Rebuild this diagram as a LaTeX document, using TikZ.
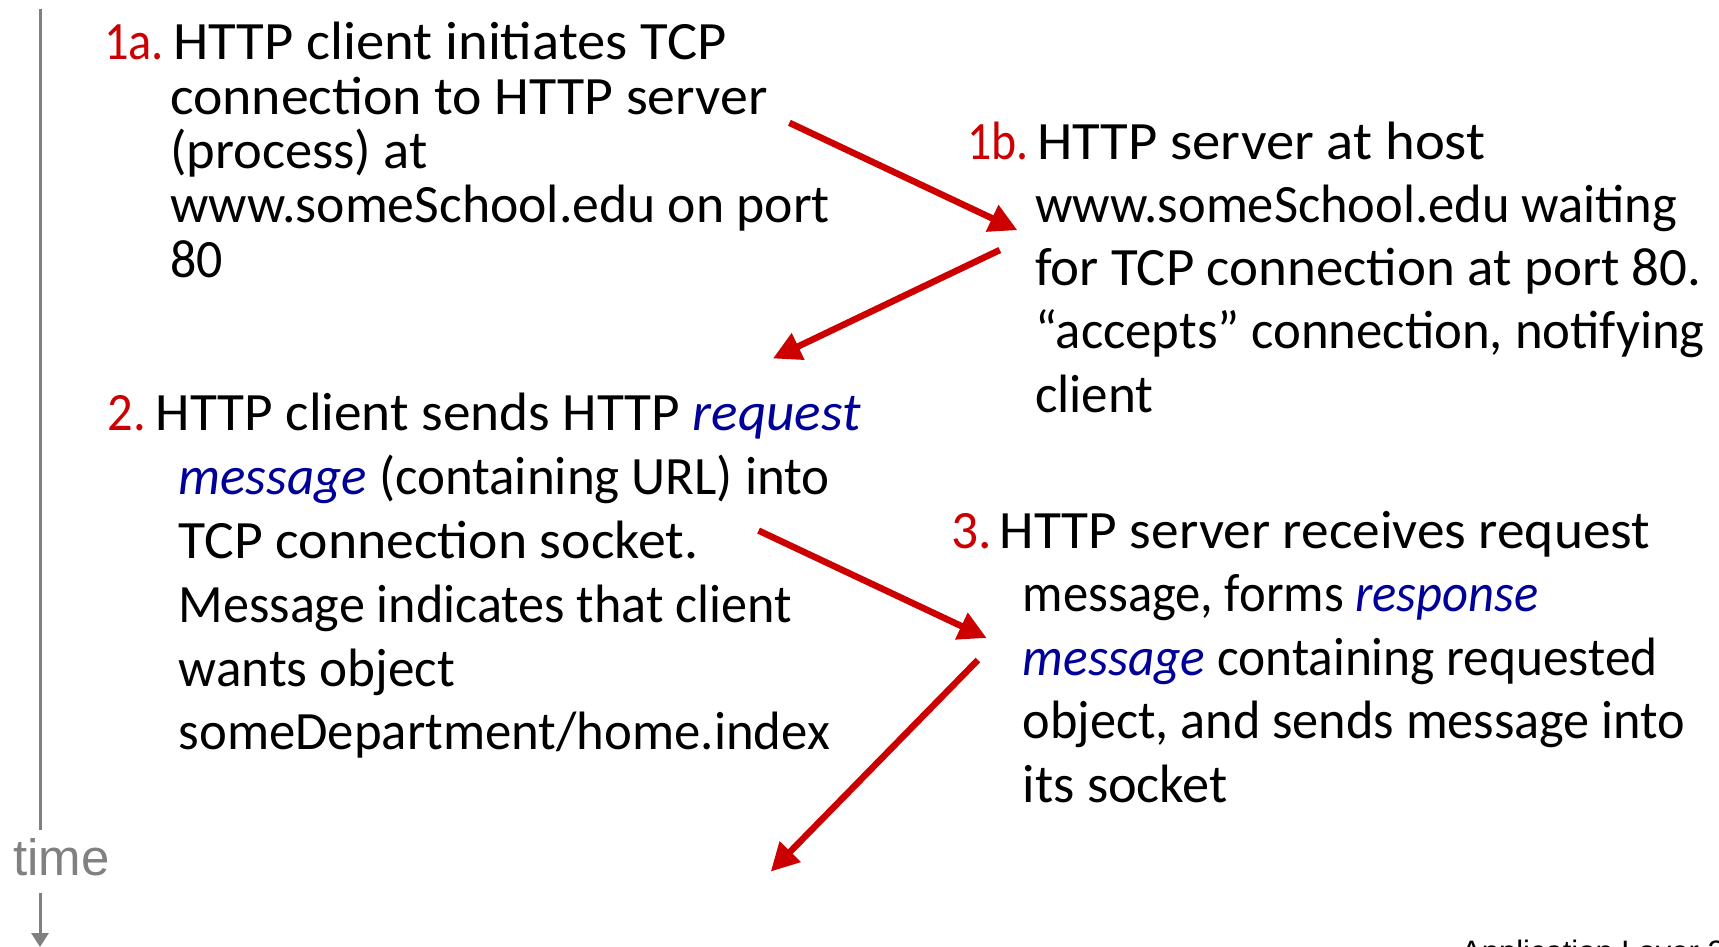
\documentclass[tikz,border=0pt]{standalone}
\usepackage{fontspec}
\usepackage{graphicx}
\usetikzlibrary{arrows.meta}
\setmainfont{Carlito}
\newfontfamily\timefont{Liberation Sans}
\definecolor{kred}{RGB}{204,0,0}
\definecolor{kblue}{RGB}{0,0,153}
\definecolor{kgray}{RGB}{128,128,128}
\newcommand\fitw[2]{\resizebox{#1pt}{\height}{#2}}
\newcommand\hl[1]{{\color{kblue}\itshape #1}}
\begin{document}
\begin{tikzpicture}[x=1pt,y=-1pt,
  txt/.style={anchor=base west,inner sep=0pt,outer sep=0pt,font=\fontsize{54}{60}\selectfont},
  num/.style={txt,text=kred},
  redarrow/.style={draw=kred,line width=6.5pt,-{Triangle[length=28pt,width=28pt]}},
  axis/.style={draw=kgray,line width=3pt},
]
\useasboundingbox (0,0) rectangle (1719,947);

% time axis
\node[anchor=base west,inner sep=0pt,text=kgray,font=\timefont\fontsize{51}{56}\selectfont] (time) at (13,875) {time};
\coordinate (t0) at (40,9);
\coordinate (t1) at (40,830);
\coordinate (t2) at (40,893);
\coordinate (t3) at (40,947);
\draw[axis] (t0) -- (t1);
\draw[axis,-{Triangle[length=14pt,width=17pt]}] (t2) -- (t3);

% block 1a
\node[num] (n1a) at (104,60) {\fitw{60}{1a.}};
\node[txt] (a1) at (173,60) {\fitw{553.6}{HTTP client initiates TCP}};
\node[txt] (a2) at (170,114.3) {\fitw{597.5}{connection to HTTP server}};
\node[txt] (a3) at (170,168.6) {\fitw{257.6}{(process) at}};
\node[txt] (a4) at (170,222.9) {\fitw{660}{www.someSchool.edu on port}};
\node[txt] (a5) at (170,277.2) {\fitw{52.6}{80}};

% block 1b
\node[num] (n1b) at (967,159) {\fitw{61.4}{1b.}};
\node[txt] (b1) at (1037,159) {\fitw{448.4}{HTTP server at host}};
\node[txt] (b2) at (1035,222.3) {\fitw{642.4}{www.someSchool.edu waiting}};
\node[txt] (b3) at (1035,285.6) {\fitw{666.6}{for TCP connection at port 80.}};
\node[txt] (b4) at (1035,348.9) {\fitw{669.8}{“accepts” connection, notifying}};
\node[txt] (b5) at (1035,412.2) {\fitw{118.4}{client}};

% block 2
\node[num] (n2) at (107.4,430.8) {\fitw{38.4}{2.}};
\node[txt] (c1) at (155.7,430.8) {\fitw{705}{HTTP client sends HTTP \hl{request}}};
\node[txt] (c2) at (178.7,494.6) {\fitw{651.2}{\hl{message} (containing URL) into}};
\node[txt] (c3) at (178.7,558.4) {\fitw{519.6}{TCP connection socket.}};
\node[txt] (c4) at (178.7,622.2) {\fitw{612.8}{Message indicates that client}};
\node[txt] (c5) at (178.7,686) {\fitw{276.3}{wants object}};
\node[txt] (c6) at (178.7,749.8) {\fitw{651.2}{someDepartment/home.index}};

% block 3
\node[num] (n3) at (951.6,548.2) {\fitw{40.6}{3.}};
\node[txt] (d1) at (999.8,548.2) {\fitw{650.1}{HTTP server receives request}};
\node[txt] (d2) at (1022.9,611.7) {\fitw{515.3}{message, forms \hl{response}}};
\node[txt] (d3) at (1022.9,675.3) {\fitw{634.8}{\hl{message} containing requested}};
\node[txt] (d4) at (1022.9,738.9) {\fitw{662.2}{object, and sends message into}};
\node[txt] (d5) at (1022.9,802.5) {\fitw{205}{its socket}};

% footer (cut off by page edge)
\node[anchor=base west,inner sep=0pt,font=\timefont\fontsize{31}{36}\selectfont] (footer) at (1461,962) {Application Layer 2};

% arrows
\coordinate (p1s) at (789.4,122.8);
\coordinate (p1e) at (1017.4,230.2);
\coordinate (p2s) at (999.8,250);
\coordinate (p2e) at (772.9,358.5);
\coordinate (p3s) at (758.6,530.6);
\coordinate (p3e) at (986.7,638);
\coordinate (p4s) at (977.9,660);
\coordinate (p4e) at (770.7,871.6);
\draw[redarrow] (p1s) -- (p1e);
\draw[redarrow] (p2s) -- (p2e);
\draw[redarrow] (p3s) -- (p3e);
\draw[redarrow] (p4s) -- (p4e);
\end{tikzpicture}
\end{document}
